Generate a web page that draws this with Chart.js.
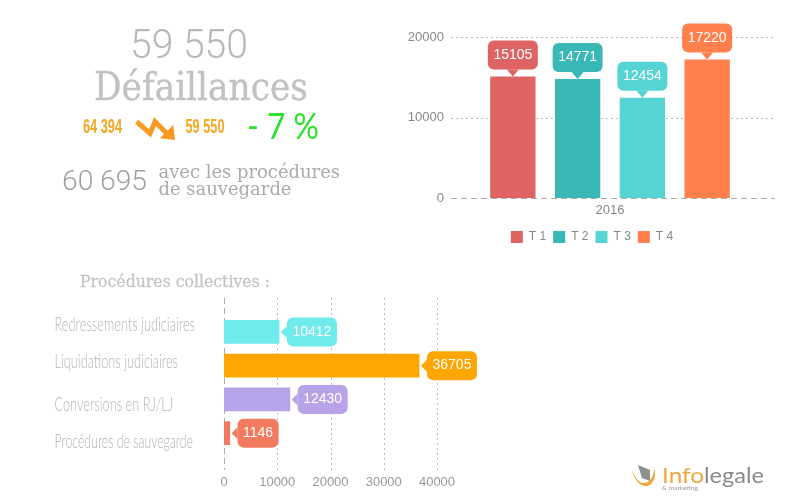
<!DOCTYPE html>
<html>
<head>
<meta charset="utf-8">
<script src="https://cdn.jsdelivr.net/npm/chart.js@4/dist/chart.umd.min.js"></script>
<style>
  html, body { margin: 0; padding: 0; background: #fff; overflow: hidden; }
  #page { position: relative; width: 800px; height: 504px; }
  #page canvas, #page svg { position: absolute; }
</style>
</head>
<body>
<div id="page">
  <canvas id="quarters" width="384" height="253" style="left:400px;top:0"></canvas>
  <canvas id="procedures" width="800" height="234" style="left:0;top:270px"></canvas>
  <svg width="800" height="504" style="left:0;top:0">
    <text x="130" y="58" textLength="118" lengthAdjust="spacingAndGlyphs" font-family="Roboto" font-weight="300" font-size="40" fill="#b8b8b8">59 550</text>
    <text x="94" y="100" textLength="214" lengthAdjust="spacingAndGlyphs" font-family="DejaVu Serif" font-size="39" fill="#c2c2c2" stroke="#c2c2c2" stroke-width="0.4">Défaillances</text>
    <text x="83" y="132.5" textLength="39" lengthAdjust="spacingAndGlyphs" font-family="Liberation Sans" font-weight="700" font-size="20" fill="#f5a623">64 394</text>
    <polyline points="136.7,121.7 150,133.3 155,121.7 168,134.5" fill="none" stroke="#f79a1f" stroke-width="5"/>
    <polygon points="173.3,125 175,140 160,138.3" fill="#f79a1f"/>
    <text x="185.5" y="132.5" textLength="39" lengthAdjust="spacingAndGlyphs" font-family="Liberation Sans" font-weight="700" font-size="20" fill="#f5a623">59 550</text>
    <text x="247" y="139" textLength="72" lengthAdjust="spacingAndGlyphs" font-family="Lato" font-size="36" fill="#2fe02f">- 7 %</text>
    <text x="62" y="190" textLength="85" lengthAdjust="spacingAndGlyphs" font-family="Roboto" font-weight="300" font-size="28" fill="#a0a0a0">60 695</text>
    <text x="158.5" y="178" textLength="181.5" lengthAdjust="spacingAndGlyphs" font-family="DejaVu Serif" font-size="19" fill="#ababab">avec les procédures</text>
    <text x="158.5" y="195" textLength="133" lengthAdjust="spacingAndGlyphs" font-family="DejaVu Serif" font-size="19" fill="#ababab">de sauvegarde</text>
    <text x="80" y="286.5" textLength="190" lengthAdjust="spacingAndGlyphs" font-family="DejaVu Serif" font-size="17" fill="#c4c4c4" stroke="#c4c4c4" stroke-width="0.3">Procédures collectives :</text>

    <g font-family="Lato" font-weight="300" font-size="20" fill="#b4b4b4">
      <text x="54.5" y="331" textLength="140.5" lengthAdjust="spacingAndGlyphs">Redressements judiciaires</text>
      <text x="54.5" y="368" textLength="123.5" lengthAdjust="spacingAndGlyphs">Liquidations judiciaires</text>
      <text x="54.5" y="411" textLength="118.5" lengthAdjust="spacingAndGlyphs">Conversions en RJ/LJ</text>
      <text x="54.5" y="448" textLength="138.5" lengthAdjust="spacingAndGlyphs">Procédures de sauvegarde</text>
    </g>

    <path d="M638,465 L650,470 L650,481 L642,478 Z" fill="#8f8f8f"/>
    <path d="M632,470 C634,482 644,490 651,484 C655,480 656,474 654,468 C654,476 650,483 644,483 C638,483 635,477 632,470 Z" fill="#f0a63a"/>
    <text x="662" y="483" textLength="42" lengthAdjust="spacingAndGlyphs" font-family="Lato" font-size="21" fill="#f0a63a">Info</text>
    <text x="704" y="483" textLength="60" lengthAdjust="spacingAndGlyphs" font-family="Lato" font-size="21" fill="#8a8a8a">legale</text>
    <text x="662" y="490" textLength="36" lengthAdjust="spacingAndGlyphs" font-family="Lato" font-size="5" fill="#999">&amp; marketing</text>
  </svg>
</div>

<script>
  const FONT = 'Liberation Sans'

  const quarters = [
    { label: 'T 1', value: 15105, color: '#de6464' },
    { label: 'T 2', value: 14771, color: '#3ab7b7' },
    { label: 'T 3', value: 12454, color: '#56d3d3' },
    { label: 'T 4', value: 17220, color: '#ff7f4d' },
  ]

  const procedures = {
    labels: ['Redressements judiciaires', 'Liquidations judiciaires', 'Conversions en RJ/LJ', 'Procédures de sauvegarde'],
    values: [10412, 36705, 12430, 1146],
    colors: ['#70ebeb', '#ffa500', '#b8a2e8', '#f27a5e'],
  }

  // dotted grid lines, they do not stop at the plot area in the original
  const dashGrid = {
    id: 'dashGrid',
    beforeDatasetsDraw(chart, args, opts) {
      const ctx = chart.ctx
      const scale = chart.scales[opts.axis]
      ctx.save()
      ctx.lineWidth = 1
      scale.ticks.forEach(t => {
        const p = Math.round(scale.getPixelForValue(t.value)) + 0.5
        ctx.setLineDash(t.value === 0 ? [6, 4] : [2, 3])
        ctx.strokeStyle = t.value === 0 ? '#aaaaaa' : '#bbbbbb'
        ctx.beginPath()
        if (opts.axis === 'y') {
          ctx.moveTo(opts.from, p)
          ctx.lineTo(opts.to, p)
        } else {
          ctx.moveTo(p, opts.from)
          ctx.lineTo(p, opts.to)
        }
        ctx.stroke()
      })
      ctx.restore()
    },
  }

  function roundBox(ctx, x, y, w, h, r) {
    ctx.beginPath()
    ctx.roundRect(x, y, w, h, r)
    ctx.fill()
  }

  // value bubbles with their little tail pointing at the bar
  const bubbles = {
    id: 'bubbles',
    afterDatasetsDraw(chart, args, opts) {
      const ctx = chart.ctx
      ctx.save()
      ctx.font = '14px "' + FONT + '"'
      ctx.textAlign = 'center'
      ctx.textBaseline = 'middle'
      chart.data.datasets.forEach((ds, i) => {
        chart.getDatasetMeta(i).data.forEach((bar, j) => {
          const color = Array.isArray(ds.backgroundColor) ? ds.backgroundColor[j] : ds.backgroundColor
          const text = String(ds.data[j])
          const w = Math.round(ctx.measureText(text).width) + 11
          const h = 29
          ctx.fillStyle = color
          if (opts.side === 'top') {
            const tip = 7
            roundBox(ctx, bar.x - w / 2, bar.y - tip - h, w, h, 6)
            ctx.beginPath()
            ctx.moveTo(bar.x - 6, bar.y - tip)
            ctx.lineTo(bar.x, bar.y)
            ctx.lineTo(bar.x + 6, bar.y - tip)
            ctx.fill()
            ctx.fillStyle = '#fff'
            ctx.fillText(text, bar.x, bar.y - tip - h / 2)
          } else {
            const start = bar.x + 1.5
            const tip = 6
            roundBox(ctx, start + tip, bar.y - h / 2, w, h, 6)
            ctx.beginPath()
            ctx.moveTo(start + tip, bar.y - 6)
            ctx.lineTo(start, bar.y)
            ctx.lineTo(start + tip, bar.y + 6)
            ctx.fill()
            ctx.fillStyle = '#fff'
            ctx.fillText(text, start + tip + w / 2, bar.y)
          }
        })
      })
      ctx.restore()
    },
  }

  new Chart(document.getElementById('quarters'), {
    type: 'bar',
    data: {
      labels: ['2016'],
      datasets: quarters.map(q => ({ label: q.label, data: [q.value], backgroundColor: q.color })),
    },
    plugins: [dashGrid, bubbles],
    options: {
      responsive: false,
      animation: false,
      devicePixelRatio: 1,
      categoryPercentage: 0.785,
      barPercentage: 0.7,
      layout: { padding: { top: 37 } },
      scales: {
        x: {
          grid: { display: false, drawTicks: false },
          border: { display: false },
          ticks: { color: '#888', font: { family: FONT, size: 13 }, padding: 5 },
          afterFit(s) { s.height = 26 },
        },
        y: {
          min: 0,
          max: 20000,
          grid: { display: false, drawTicks: false },
          border: { display: false },
          ticks: { stepSize: 10000, color: '#888', font: { family: FONT, size: 13 }, padding: 1, callback: v => v },
          afterFit(s) { s.width = 45 },
        },
        y2: {
          position: 'right',
          display: true,
          grid: { display: false, drawTicks: false },
          border: { display: false },
          ticks: { display: false },
          afterFit(s) { s.width = 9 },
        },
      },
      plugins: {
        tooltip: { enabled: false },
        dashGrid: { axis: 'y', from: 51, to: 375 },
        bubbles: { side: 'top' },
        legend: {
          position: 'bottom',
          labels: {
            boxWidth: 12,
            boxHeight: 12,
            padding: 7,
            color: '#888',
            font: { family: FONT, size: 12 },
          },
        },
      },
    },
  })

  new Chart(document.getElementById('procedures'), {
    type: 'bar',
    data: {
      labels: procedures.labels,
      datasets: [{ data: procedures.values, backgroundColor: procedures.colors }],
    },
    plugins: [dashGrid, bubbles],
    options: {
      indexAxis: 'y',
      responsive: false,
      animation: false,
      devicePixelRatio: 1,
      categoryPercentage: 0.7,
      barPercentage: 1,
      layout: { padding: { top: 45, left: 224, right: 363 } },
      scales: {
        x: {
          min: 0,
          max: 40000,
          grid: { display: false, drawTicks: false },
          border: { display: false },
          ticks: { stepSize: 10000, maxRotation: 0, color: '#999', font: { family: FONT, size: 13 }, padding: 25, callback: v => v },
          afterFit(s) { s.height = 54 },
        },
        y: {
          grid: { display: false, drawTicks: false },
          border: { display: false },
          ticks: { display: false },
          afterFit(s) { s.width = 0 },
        },
      },
      plugins: {
        legend: { display: false },
        tooltip: { enabled: false },
        dashGrid: { axis: 'x', from: 28, to: 200 },
        bubbles: { side: 'right' },
      },
    },
  })
</script>
</body>
</html>
